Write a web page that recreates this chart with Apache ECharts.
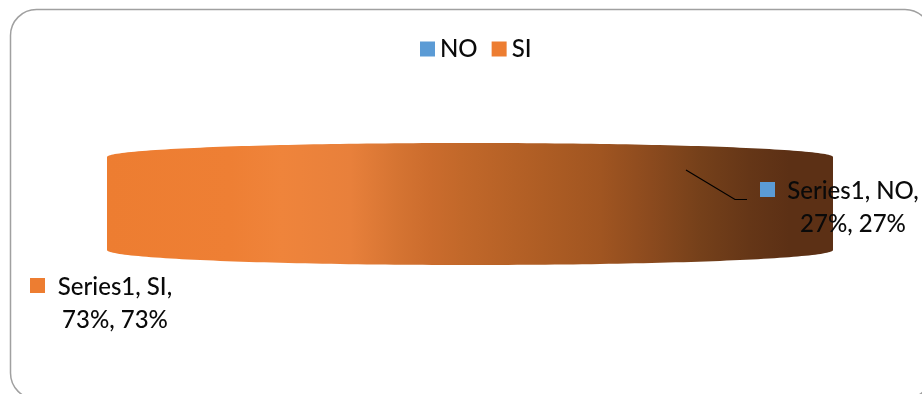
<!DOCTYPE html>
<html>
<head>
<meta charset="utf-8">
<style>html,body{margin:0;padding:0;background:#fff;overflow:hidden}#chart{width:922px;height:394px}</style>
<script src="https://cdn.jsdelivr.net/npm/echarts@6/dist/echarts.min.js"></script>
</head>
<body>
<div id="chart"></div>
<script>
// Share of answers
const seriesName = 'Series1';
const categories = ['NO', 'SI'];
const values = [27, 73];
const colors = ['#5B9BD5', '#ED7D31'];

const FONT = 'Lato, "Open Sans", sans-serif';

// Flattened cylinder outline of the pie body
const BODY = { left: 107, right: 833, topEdge: 157, bottomEdge: 250, topRise: 14, bottomDrop: 15 };

// Shading across the visible wall of the larger slice
const wallShade = {
  type: 'linear', x: BODY.left, y: 0, x2: BODY.right, y2: 0, global: true,
  colorStops: [
    { offset: 0, color: '#ED7D31' },
    { offset: 0.17, color: '#EE7F34' },
    { offset: 0.24, color: '#EF843B' },
    { offset: 0.335, color: '#E8803B' },
    { offset: 0.40, color: '#D57432' },
    { offset: 0.445, color: '#CB6C2D' },
    { offset: 0.488, color: '#C2682A' },
    { offset: 0.6, color: '#AE5D24' },
    { offset: 0.68, color: '#A05521' },
    { offset: 0.75, color: '#8B4A1E' },
    { offset: 0.817, color: '#75401A' },
    { offset: 0.885, color: '#653617' },
    { offset: 0.94, color: '#5C3015' },
    { offset: 1, color: '#5C3015' }
  ]
};

function bodyPath() {
  const b = BODY, cx = (b.left + b.right) / 2, rx = (b.right - b.left) / 2;
  const pts = [];
  const steps = 120;
  for (let i = 0; i <= steps; i++) {
    const a = Math.PI - (Math.PI * i) / steps;
    pts.push([cx + rx * Math.cos(a), b.topEdge - b.topRise * Math.sin(a)]);
  }
  for (let i = 0; i <= steps; i++) {
    const a = (Math.PI * i) / steps;
    pts.push([cx + rx * Math.cos(a), b.bottomEdge + b.bottomDrop * Math.sin(a)]);
  }
  return pts;
}

// Swatch plus two-line label, formatted from the slice's own value
function sliceLabel(idx, sx, sy, tx, ty) {
  const v = values[idx] + '%';
  return [
    { type: 'rect', shape: { x: sx, y: sy, width: 15, height: 15 }, style: { fill: colors[idx] }, z2: 20 },
    { type: 'text', z2: 20, style: {
        x: tx, y: ty, text: seriesName + ', ' + categories[idx] + ',\n' + v + ', ' + v,
        fill: '#0a0a0a', font: '500 24px ' + FONT, align: 'center', verticalAlign: 'top', lineHeight: 33 } }
  ];
}

const renderers = {
  NO: () => ({ type: 'group', children: [
    { type: 'polyline', shape: { points: [[686, 170], [735, 199.5], [747, 199.5]] },
      style: { stroke: '#000', lineWidth: 1.2, fill: null }, z2: 15 },
    ...sliceLabel(0, 760, 182, 853, 175)
  ]}),
  SI: () => ({ type: 'group', children: [
    { type: 'polygon', shape: { points: bodyPath() }, style: { fill: wallShade }, z2: 1 },
    ...sliceLabel(1, 30, 278, 115, 271)
  ]})
};

const option = {
  animation: false,
  backgroundColor: '#fff',
  legend: {
    data: categories, top: 32, left: 415,
    itemWidth: 15, itemHeight: 15, itemGap: 14, icon: 'rect',
    textStyle: { fontFamily: FONT, fontSize: 24, fontWeight: 500, color: '#0a0a0a' }
  },
  graphic: [{
    type: 'rect', z: -1, silent: true,
    shape: { x: 10.5, y: 9.5, width: 920.5, height: 389.5, r: 26 },
    style: { fill: '#fff', stroke: '#a0a0a0', lineWidth: 1.5 }
  }],
  // The larger slice is drawn after the smaller one, which sits behind it
  series: categories.map((name, i) => ({
    type: 'custom', name, coordinateSystem: 'none',
    itemStyle: { color: colors[i] },
    data: [values[i]],
    renderItem: renderers[name],
    z: name === 'NO' ? 3 : 2
  }))
};

const chart = echarts.init(document.getElementById('chart'), null, { renderer: 'canvas' });
chart.setOption(option);
</script>
</body>
</html>
